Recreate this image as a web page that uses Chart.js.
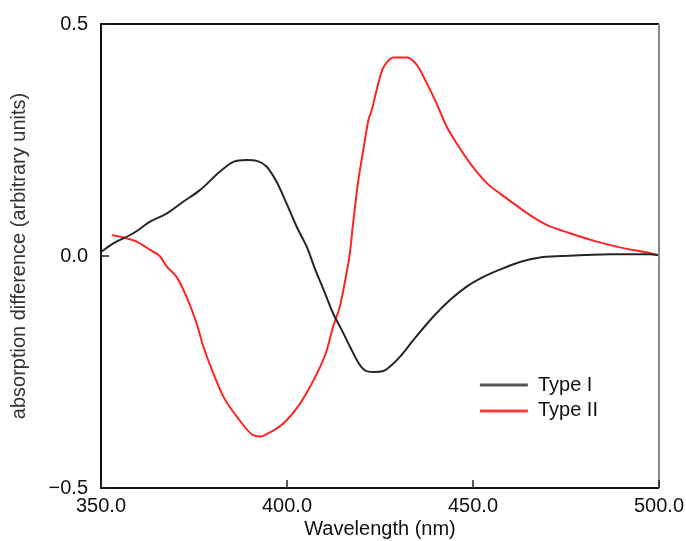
<!DOCTYPE html>
<html>
<head>
<meta charset="utf-8">
<script src="https://cdn.jsdelivr.net/npm/chart.js@4/dist/chart.umd.min.js"></script>
<style>
  html, body { margin: 0; padding: 0; background: #fff; }
  #wrap { width: 686px; height: 541px; position: relative; }
</style>
</head>
<body>
<div id="wrap"><canvas id="chart"></canvas></div>
<script>
// Type I difference spectrum (nm, arbitrary units)
const type1Wavelength = [350, 353.3, 358.7, 363.2, 367.7, 372.1, 376.6, 382, 385.6, 389.2, 391.9, 394.5,
  397.2, 399.9, 402.6, 405.3, 407.5, 410, 412.4, 414.5, 416.9, 419.6, 421.4, 423.5, 425.9, 428, 430.4,
  434, 439.3, 443.8, 448.3, 452.8, 457.3, 462.6, 468, 474, 480, 486.8, 493, 497.6, 500];
const type1Values = [0.009, 0.027, 0.049, 0.074, 0.092, 0.117, 0.142, 0.182, 0.203, 0.207, 0.205, 0.193,
  0.160, 0.113, 0.063, 0.020, -0.027, -0.076, -0.124, -0.156, -0.195, -0.235, -0.248, -0.250, -0.248, -0.236, -0.217,
  -0.181, -0.131, -0.095, -0.066, -0.045, -0.029, -0.013, -0.003, 0.000, 0.002, 0.004, 0.004, 0.004, 0.002];

// Type II difference spectrum
const type2Wavelength = [352.9, 356, 359.6, 363.2, 365.9, 367.7, 370.3, 373, 375.7, 377.5, 380.2, 382.9,
  386.5, 390.9, 393, 394.5, 399, 403.5, 406.2, 408.9, 410.7, 412.4, 414.2, 416, 416.9, 417.8, 419.2, 420.5,
  421.9, 422.8, 424.1, 425.6, 426.9, 428.6, 432.2, 434.9, 437.6, 440.2, 442.9, 445.6, 449.2, 453.7, 457,
  460.8, 465.3, 469.8, 476.1, 483.3, 490.4, 497.6, 500];
const type2Values = [0.045, 0.040, 0.031, 0.013, -0.001, -0.023, -0.045, -0.088, -0.145, -0.195, -0.253, -0.303,
  -0.346, -0.386, -0.389, -0.384, -0.361, -0.318, -0.282, -0.239, -0.203, -0.152, -0.109, -0.037, 0.006, 0.073, 0.164, 0.228,
  0.293, 0.315, 0.358, 0.401, 0.418, 0.428, 0.428, 0.412, 0.372, 0.329, 0.279, 0.243, 0.200, 0.157, 0.136,
  0.114, 0.088, 0.067, 0.049, 0.031, 0.017, 0.006, 0.001];

const xTicks = [350, 400, 450, 500];
const yTicks = [-0.5, 0, 0.5];
const seriesNames = ['Type I', 'Type II'];

const FONT = '"Liberation Sans", Arial, sans-serif';

const toPoints = (xs, ys) => xs.map((x, i) => ({ x, y: ys[i] }));

// box around the plot + small inward ticks
const framePlugin = {
  id: 'frame',
  afterDraw(chart) {
    const { ctx, chartArea: a, scales } = chart;
    ctx.save();
    ctx.lineWidth = 2;
    ctx.strokeStyle = '#111';
    ctx.beginPath();
    ctx.moveTo(a.right, a.top); ctx.lineTo(a.left, a.top);
    ctx.lineTo(a.left, a.bottom); ctx.lineTo(a.right, a.bottom);
    ctx.stroke();
    ctx.strokeStyle = '#888';
    ctx.beginPath();
    ctx.moveTo(a.right, a.top); ctx.lineTo(a.right, a.bottom);
    ctx.stroke();

    ctx.strokeStyle = '#222';
    ctx.lineWidth = 1.5;
    xTicks.forEach(v => {
      const px = scales.x.getPixelForValue(v);
      ctx.beginPath(); ctx.moveTo(px, a.bottom); ctx.lineTo(px, a.bottom - 8); ctx.stroke();
    });
    yTicks.forEach(v => {
      const py = scales.y.getPixelForValue(v);
      ctx.beginPath(); ctx.moveTo(a.left, py); ctx.lineTo(a.left + 8, py); ctx.stroke();
    });
    ctx.restore();
  }
};

// legend sits inside the plot, lower right
const legendPlugin = {
  id: 'insideLegend',
  afterDraw(chart) {
    const { ctx, chartArea: a } = chart;
    const w = a.right - a.left, h = a.bottom - a.top;
    const rows = [0.778, 0.834];
    ctx.save();
    ctx.font = '20px ' + FONT;
    ctx.textBaseline = 'middle';
    chart.data.datasets.forEach((ds, i) => {
      const y = a.top + rows[i] * h;
      ctx.strokeStyle = ds.legendColor;
      ctx.lineWidth = 3;
      ctx.beginPath();
      ctx.moveTo(a.left + 0.679 * w, y);
      ctx.lineTo(a.left + 0.765 * w, y);
      ctx.stroke();
      ctx.fillStyle = '#111';
      ctx.fillText(ds.label, a.left + 0.783 * w, y);
    });
    ctx.restore();
  }
};

new Chart(document.getElementById('chart'), {
  type: 'line',
  data: {
    datasets: [
      {
        label: seriesNames[0],
        data: toPoints(type1Wavelength, type1Values),
        borderColor: '#262626',
        legendColor: '#555',
        borderWidth: 2,
        pointRadius: 0,
        cubicInterpolationMode: 'monotone',
        fill: false,
      },
      {
        label: seriesNames[1],
        data: toPoints(type2Wavelength, type2Values),
        borderColor: '#ff2424',
        legendColor: '#ff3b3b',
        borderWidth: 2,
        pointRadius: 0,
        cubicInterpolationMode: 'monotone',
        fill: false,
      },
    ],
  },
  options: {
    responsive: true,
    maintainAspectRatio: false,
    animation: false,
    layout: { padding: { top: 24, right: 27, left: 0, bottom: 0 } },
    plugins: { legend: { display: false }, tooltip: { enabled: false } },
    scales: {
      x: {
        type: 'linear',
        min: 350, max: 500,
        afterBuildTicks: s => { s.ticks = xTicks.map(v => ({ value: v })); },
        afterFit: s => { s.height = 53; s.paddingRight = 0; s.paddingLeft = 0; },
        grid: { display: false, drawTicks: false },
        border: { display: false },
        ticks: {
          color: '#111', padding: 6,
          font: { family: FONT, size: 20 },
          callback: v => v.toFixed(1),
          maxRotation: 0,
        },
        title: {
          display: true, text: 'Wavelength (nm)', color: '#111',
          font: { family: FONT, size: 20 },
          padding: { top: 0, bottom: 0 },
        },
      },
      y: {
        min: -0.5, max: 0.5,
        afterBuildTicks: s => { s.ticks = yTicks.map(v => ({ value: v })); },
        afterFit: s => { s.width = 101; s.paddingTop = 0; s.paddingBottom = 0; },
        grid: { display: false, drawTicks: false },
        border: { display: false },
        ticks: {
          color: '#111', padding: 13,
          font: { family: FONT, size: 20 },
          callback: v => (v < 0 ? '\u2212' : '') + Math.abs(v).toFixed(1),
        },
        title: {
          display: true, text: 'absorption difference (arbitrary units)', color: '#333',
          font: { family: FONT, size: 20 },
          padding: { top: 7, bottom: 0 },
        },
      },
    },
  },
  plugins: [framePlugin, legendPlugin],
});
</script>
</body>
</html>
